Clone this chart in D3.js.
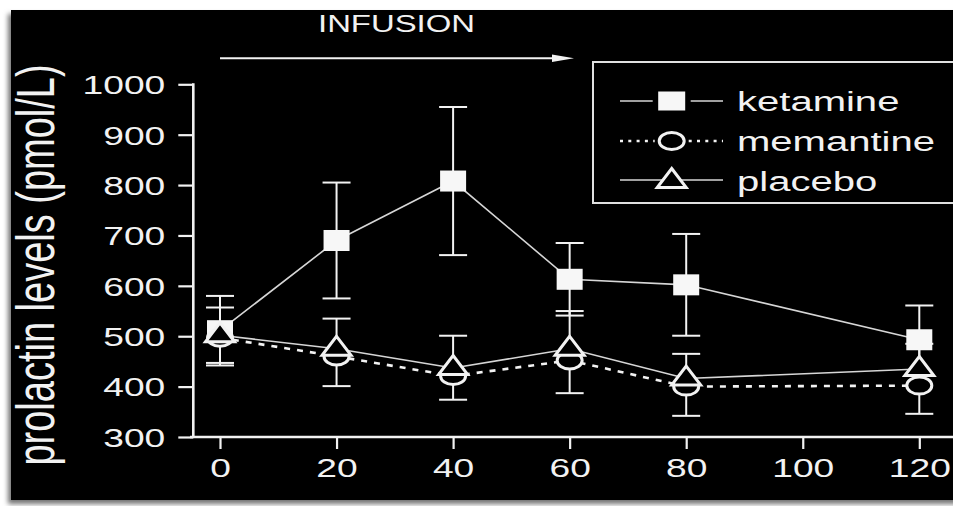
<!DOCTYPE html>
<html>
<head>
<meta charset="utf-8">
<script src="https://cdn.jsdelivr.net/npm/d3@7"></script>
<style>
  html, body { margin: 0; padding: 0; background: #fff; }
  svg { display: block; }
</style>
</head>
<body>
<svg id="chart" width="953" height="506"></svg>
<script>
// Sampling times (min)
const times = [0, 20, 40, 60, 80, 120];

// Prolactin means and SEM (pmol/L)
const ketamineMean  = [511, 690, 808, 613, 602, 493];
const ketamineSem   = [69, 115, 147, 72, 101, 68];
const memantineMean = [497, 460, 421, 452, 400, 402];
const memantineSem  = [50, 59, 47, 65, 58, 56];
const placeboMean   = [502, 475, 437, 475, 416, 435];
const placeboSem    = [55, 60, 64, 75, 49, 50];

const seriesNames = ["ketamine", "memantine", "placebo"];
const yTicks = [300, 400, 500, 600, 700, 800, 900, 1000];
const yMinorTicks = [350, 450, 550, 650, 750, 850, 950];
const xTicks = [0, 20, 40, 60, 80, 100, 120];
const xMinorTicks = [10, 30, 50, 70, 90, 110];

const series = [
  { name: seriesNames[0], mean: ketamineMean,  sem: ketamineSem,  bars: "both", symbol: "square",   dash: null,  legendGap: 19 },
  { name: seriesNames[1], mean: memantineMean, sem: memantineSem, bars: "down", symbol: "circle",   dash: "6,7", legendGap: 17 },
  { name: seriesNames[2], mean: placeboMean,   sem: placeboSem,   bars: "up",   symbol: "triangle", dash: null,  legendGap: 0 }
];

const FONT = "'Liberation Sans', Arial, Helvetica, sans-serif";
const SX = 1.43;           // horizontal stretch of the lettering
const INK = "#f2f2f2";
const LINE = "#d6d6d6";

const svg = d3.select("#chart");

// page and dark panel with a soft shadow
const defs = svg.append("defs");
const shadow = defs.append("filter").attr("id", "shadow")
  .attr("x", "-5%").attr("y", "-5%").attr("width", "110%").attr("height", "115%");
shadow.append("feDropShadow").attr("dx", -3).attr("dy", 4)
  .attr("stdDeviation", 2.5).attr("flood-color", "#000").attr("flood-opacity", 0.55);

svg.append("rect").attr("width", 953).attr("height", 506).attr("fill", "#fff");
svg.append("rect").attr("x", 11).attr("y", 10).attr("width", 960).attr("height", 490)
  .attr("fill", "#000").attr("filter", "url(#shadow)");

const x = d3.scaleLinear().domain([0, 120]).range([220, 919.3]);
const y = d3.scaleLinear().domain([300, 1000]).range([437, 84.3]);

const axisLeftX = 193.3;
const axisBottomY = y(300);

// stretched text helper
function label(parent, px, py, str, size, anchor) {
  return parent.append("text")
    .attr("transform", `translate(${px},${py}) scale(${SX},1)`)
    .attr("text-anchor", anchor || "start")
    .attr("font-family", FONT).attr("font-size", size)
    .attr("fill", INK).text(str);
}

// ---- axes ----
const yAxisG = svg.append("g").attr("transform", `translate(${axisLeftX},0)`);
yAxisG.call(d3.axisLeft(y).tickValues(yMinorTicks).tickSize(8).tickFormat(""));
yAxisG.call(d3.axisLeft(y).tickValues(yTicks).tickSize(15).tickPadding(13).tickFormat(d3.format("d")));
yAxisG.select(".domain").remove();
yAxisG.selectAll("line").attr("stroke", INK).attr("stroke-width", 2.2);
yAxisG.selectAll("text")
  .attr("x", -28 / SX).attr("dy", "0.36em")
  .attr("transform", `scale(${SX},1)`)
  .attr("font-family", FONT).attr("font-size", 26).attr("fill", INK);

const xAxisG = svg.append("g").attr("transform", `translate(0,${axisBottomY})`);
xAxisG.call(d3.axisBottom(x).tickValues(xMinorTicks).tickSize(7).tickFormat(""));
xAxisG.call(d3.axisBottom(x).tickValues(xTicks).tickSize(12).tickPadding(10).tickFormat(d3.format("d")));
xAxisG.select(".domain").remove();
xAxisG.selectAll("line").attr("stroke", INK).attr("stroke-width", 2.2);
xAxisG.selectAll("text")
  .attr("transform", `scale(${SX},1)`)
  .attr("font-family", FONT).attr("font-size", 26).attr("fill", INK);
xAxisG.selectAll(".tick").each(function () {
  const t = d3.select(this);
  const tx = +t.attr("transform").match(/translate\(([^,]+)/)[1];
  t.attr("transform", `translate(${tx},0)`);
});

svg.append("line").attr("x1", axisLeftX).attr("x2", axisLeftX)
  .attr("y1", y(1000) - 1).attr("y2", axisBottomY + 1)
  .attr("stroke", INK).attr("stroke-width", 2.6);
svg.append("line").attr("x1", 190).attr("x2", 953)
  .attr("y1", axisBottomY).attr("y2", axisBottomY)
  .attr("stroke", INK).attr("stroke-width", 2.6);

// y-axis title (rotated, lettering stretched across its height)
svg.append("text")
  .attr("transform", "translate(54,265) rotate(-90) scale(1,1.4)")
  .attr("text-anchor", "middle")
  .attr("font-family", FONT).attr("font-size", 38).attr("fill", INK)
  .text("prolactin levels (pmol/L)");

// infusion period marker
label(svg, 318, 31.5, "INFUSION", 23, "start");
const arrowY = 58.3;
svg.append("line").attr("x1", x(0)).attr("x2", 556)
  .attr("y1", arrowY).attr("y2", arrowY)
  .attr("stroke", INK).attr("stroke-width", 2);
svg.append("path")
  .attr("d", `M552,${arrowY - 3.8} L574,${arrowY} L552,${arrowY + 3.8} Z`)
  .attr("fill", INK);

// ---- markers ----
function drawSymbol(g, kind) {
  if (kind === "square") {
    g.append("rect").attr("x", -13).attr("y", -10.5).attr("width", 26).attr("height", 21)
      .attr("fill", "#f7f7f7");
  } else if (kind === "circle") {
    g.append("ellipse").attr("rx", 12.5).attr("ry", 8.5)
      .attr("fill", "#000").attr("stroke", INK).attr("stroke-width", 3);
  } else {
    g.append("path").attr("d", "M0,-12.5 L14.5,6.5 L-14.5,6.5 Z")
      .attr("fill", "#000").attr("stroke", INK).attr("stroke-width", 3)
      .attr("stroke-linejoin", "miter");
  }
}

const plot = svg.append("g");

// error bars
series.forEach(s => {
  const g = plot.append("g").attr("class", "err-" + s.name);
  times.forEach((t, i) => {
    const m = s.mean[i], e = s.sem[i];
    const hi = s.bars === "down" ? m : m + e;
    const lo = s.bars === "up" ? m : m - e;
    const cx = x(t);
    g.append("line").attr("x1", cx).attr("x2", cx).attr("y1", y(hi)).attr("y2", y(lo))
      .attr("stroke", INK).attr("stroke-width", 2);
    if (s.bars !== "down")
      g.append("line").attr("x1", cx - 14).attr("x2", cx + 14).attr("y1", y(hi)).attr("y2", y(hi))
        .attr("stroke", INK).attr("stroke-width", 2);
    if (s.bars !== "up")
      g.append("line").attr("x1", cx - 14).attr("x2", cx + 14).attr("y1", y(lo)).attr("y2", y(lo))
        .attr("stroke", INK).attr("stroke-width", 2);
  });
});

// connecting lines
const lineGen = d3.line().x((d, i) => x(times[i])).y(d => y(d));
series.forEach(s => {
  plot.append("path").datum(s.mean)
    .attr("d", lineGen)
    .attr("fill", "none")
    .attr("stroke", s.dash ? INK : LINE)
    .attr("stroke-width", s.dash ? 2.6 : 1.6)
    .attr("stroke-dasharray", s.dash);
});

// symbols: squares first, then circles, triangles on top
series.forEach(s => {
  times.forEach((t, i) => {
    const g = plot.append("g").attr("transform", `translate(${x(t)},${y(s.mean[i])})`);
    drawSymbol(g, s.symbol);
  });
});

// ---- legend ----
const legend = svg.append("g");
legend.append("rect").attr("x", 593).attr("y", 62).attr("width", 400).attr("height", 141)
  .attr("fill", "none").attr("stroke", "#e0e0e0").attr("stroke-width", 2);

const legX1 = 620, legX2 = 723, legCx = 671.7;
series.forEach((s, i) => {
  const ry = 101 + i * 40;
  const lineY = s.symbol === "triangle" ? ry - 1 : ry;
  const segs = s.legendGap
    ? [[legX1, legCx - s.legendGap], [legCx + s.legendGap, legX2]]
    : [[legX1, legX2]];
  segs.forEach(([a, b]) => {
    legend.append("line").attr("x1", a).attr("x2", b).attr("y1", lineY).attr("y2", lineY)
      .attr("stroke", s.dash ? INK : LINE)
      .attr("stroke-width", s.dash ? 2.4 : 1.6)
      .attr("stroke-dasharray", s.dash ? "3,5.3" : null);
  });
  const g = legend.append("g").attr("transform", `translate(${legCx},${ry})`);
  if (s.symbol === "square") {
    g.append("rect").attr("x", -13.5).attr("y", -9.5).attr("width", 27).attr("height", 19).attr("fill", "#f7f7f7");
  } else {
    drawSymbol(g, s.symbol);
  }
  label(legend, 737, ry + 10, s.name, 28, "start");
});
</script>
</body>
</html>
